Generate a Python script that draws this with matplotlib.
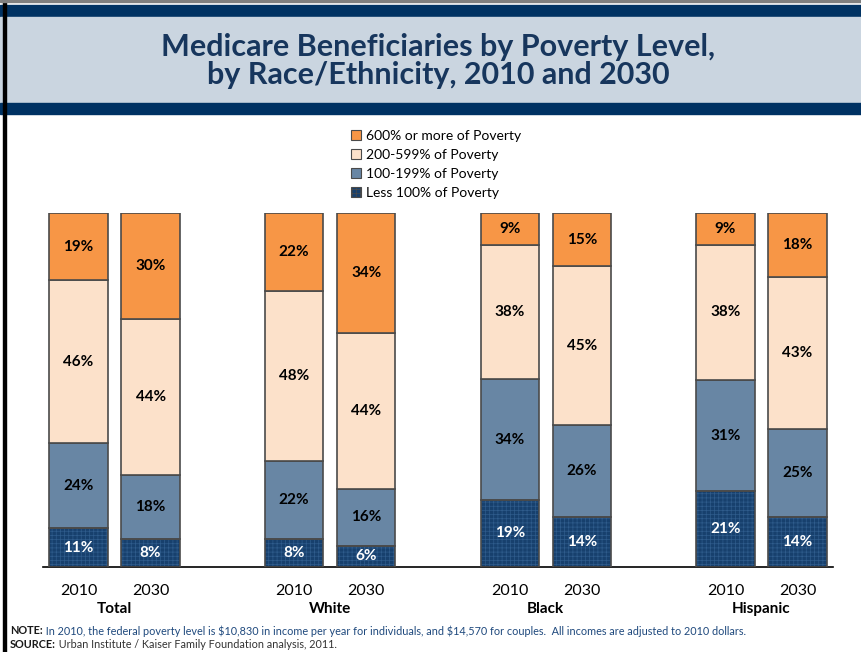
import matplotlib
matplotlib.use("Agg")
import matplotlib.pyplot as plt
from matplotlib.patches import Rectangle, Patch

plt.rcParams['font.family'] = ['Lato', 'DejaVu Sans']
plt.rcParams['hatch.linewidth'] = 0.5

groups = ["Total", "White", "Black", "Hispanic"]
years = ["2010", "2030"]
series = ["Less 100% of Poverty", "100-199% of Poverty", "200-599% of Poverty", "600% or more of Poverty"]
# values[group] -> [2010 value, 2030 value], per series (bottom to top); labels are rounded
less100 = [[11, 8], [8, 6], [19, 14], [21.4, 14]]
p100_199 = [[24, 18], [22, 16], [34, 26], [31.3, 25]]
p200_599 = [[46, 44], [48, 44], [38, 45], [38.4, 43]]
p600 = [[19, 30], [22, 34], [9, 15], [8.9, 18]]

title = "Medicare Beneficiaries by Poverty Level,\nby Race/Ethnicity, 2010 and 2030"
note_head = "NOTE:"
note_body = " In 2010, the federal poverty level is \\$10,830 in income per year for individuals, and \\$14,570 for couples.  All incomes are adjusted to 2010 dollars."
src_head = "SOURCE:"
src_body = " Urban Institute / Kaiser Family Foundation analysis, 2011."

colors = ["#17406D", "#6886A4", "#FCE1CA", "#F79646"]
label_colors = ["white", "black", "black", "black"]
edge = "#4A4A4A"
navy = "#003263"
W, H = 862, 652

fig = plt.figure(figsize=(W / 100, H / 100), dpi=100)

# header bands
fig.patches.append(Rectangle((0, 1 - 17 / H), 1, 12 / H, transform=fig.transFigure, color=navy, zorder=0))
fig.patches.append(Rectangle((0, 1 - 103 / H), 1, 86 / H, transform=fig.transFigure, color="#CAD5E0", zorder=0))
fig.patches.append(Rectangle((0, 1 - 114 / H), 1, 11 / H, transform=fig.transFigure, color=navy, zorder=0))
fig.patches.append(Rectangle((3 / W, 0), 3 / W, 1, transform=fig.transFigure, color="black", zorder=1))
fig.patches.append(Rectangle((0, 1 - 2 / H), 1, 2 / H, transform=fig.transFigure, color="#7F7F7F", zorder=1))

fig.text(438 / W, 1 - 61 / H, title, ha="center", va="center", fontsize=22,
         fontweight="bold", color="#17365D", linespacing=1.02)

ax = fig.add_axes([43 / W, (H - 567) / H, (833 - 43) / W, (567 - 213) / H])
ax.set_xlim(-0.332, 3.332)
ax.set_ylim(0, 100)
for s in ["top", "right", "left"]:
    ax.spines[s].set_visible(False)
ax.spines["bottom"].set_color("black")
ax.spines["bottom"].set_linewidth(1.2)
ax.set_xticks([])
ax.set_yticks([])

all_series = [less100, p100_199, p200_599, p600]
offsets = [-0.167, 0.167]
width = 0.27
for gi, g in enumerate(groups):
    for yi, yr in enumerate(years):
        x = gi + offsets[yi]
        bottom = 0
        for si, sdata in enumerate(all_series):
            v = sdata[gi][yi]
            if si == 0:
                ax.bar(x, v, width, bottom=bottom, color=colors[si], edgecolor="#2F5C8C",
                       linewidth=0, hatch="++++", zorder=2)
                ax.bar(x, v, width, bottom=bottom, fill=False, edgecolor=edge, linewidth=1.2, zorder=3)
            else:
                ax.bar(x, v, width, bottom=bottom, color=colors[si], edgecolor=edge,
                       linewidth=1.2, zorder=2)
            ax.text(x, bottom + v / 2, f"{round(v)}%", ha="center", va="center", fontsize=11,
                    fontweight="bold", color=label_colors[si], zorder=4)
            bottom += v
        ax.text(x, -6.8, yr, ha="center", va="center", fontsize=11.5, color="black",
                clip_on=False)
    ax.text(gi, -11.9, g, ha="center", va="center", fontsize=11, fontweight="bold",
            color="black", clip_on=False)

handles = [Patch(facecolor=colors[i], edgecolor=edge, linewidth=0.8,
                 hatch="++++" if i == 0 else None) for i in range(3, -1, -1)]
labels = [series[i] for i in range(3, -1, -1)]
fig.legend(handles, labels, loc="upper left", bbox_to_anchor=(351 / W, 1 - 130 / H),
           frameon=False, fontsize=10, handlelength=0.75, handleheight=0.75,
           handletextpad=0.3, labelspacing=0.5, borderaxespad=0, borderpad=0)

t1 = fig.text(10 / W, 1 - 631 / H, note_head, ha="left", va="center", fontsize=7.8,
              fontweight="bold", color="#1A1A1A")
fig.add_artist(matplotlib.text.Annotation(note_body, xy=(1, 0.5), xycoords=t1, ha="left", va="center",
                                          fontsize=7.8, color="#1F497D", annotation_clip=False))
t2 = fig.text(10 / W, 1 - 645 / H, src_head, ha="left", va="center", fontsize=7.8,
              fontweight="bold", color="#1A1A1A")
fig.add_artist(matplotlib.text.Annotation(src_body, xy=(1, 0.5), xycoords=t2, ha="left", va="center",
                                          fontsize=7.8, color="#333333", annotation_clip=False))

fig.savefig("out.png", dpi=100)
